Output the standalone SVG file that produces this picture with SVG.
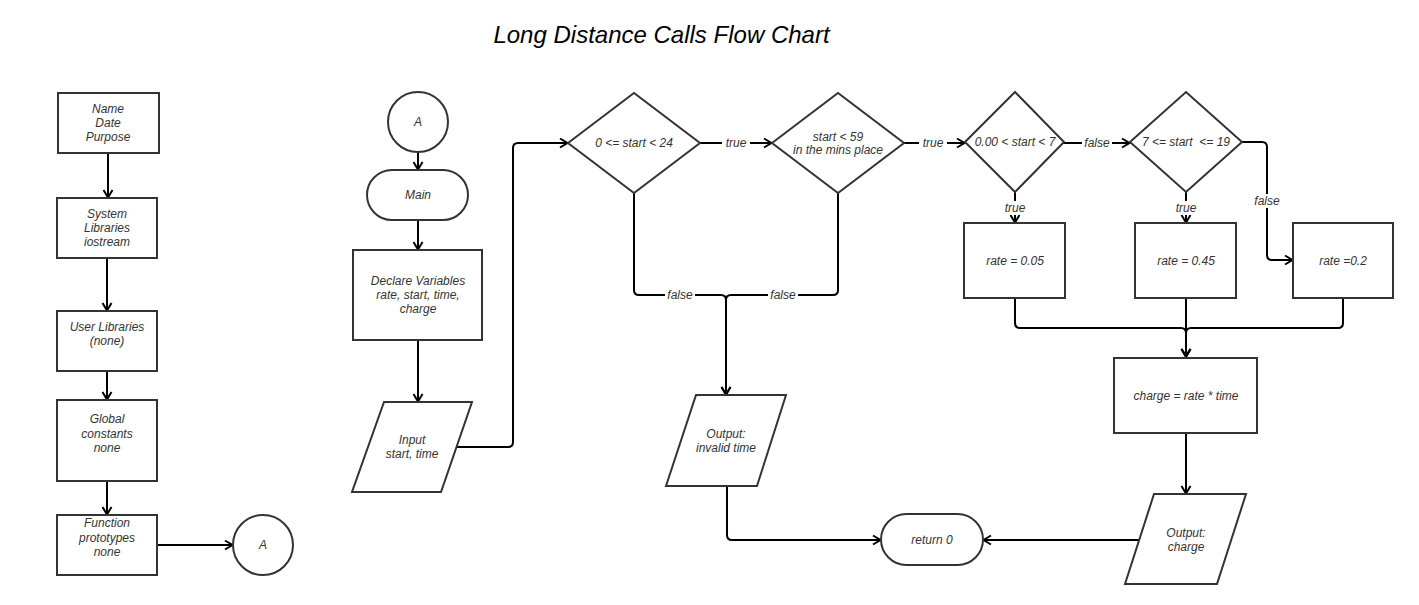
<svg xmlns="http://www.w3.org/2000/svg" width="1419" height="605" viewBox="0 0 1419 605">
<defs>
<style>
.n{fill:#fff;stroke:#333;stroke-width:2}
.t{font-family:"Liberation Sans",Arial,sans-serif;font-size:12px;font-style:italic;fill:#333;text-anchor:middle;dominant-baseline:central}
.c{fill:none;stroke:#000;stroke-width:2}
.lb{font-family:"Liberation Sans",Arial,sans-serif;font-size:12px;font-style:italic;fill:#333;text-anchor:middle;dominant-baseline:central}
.lbg{fill:#fff;stroke:none}
</style>
<marker id="arr" markerWidth="12" markerHeight="12" refX="9" refY="6" orient="auto" markerUnits="userSpaceOnUse">
<path d="M2,1.5 L9.5,6 L2,10.5" fill="none" stroke="#000" stroke-width="2"/>
</marker>
</defs>
<rect width="1419" height="605" fill="#fff"/>
<text x="661.5" y="34" font-family="'Liberation Sans',Arial,sans-serif" font-size="24" font-style="italic" fill="#000" text-anchor="middle" dominant-baseline="central">Long Distance Calls Flow Chart</text>

<g id="connectors">
<path class="c" d="M108,153 V197" marker-end="url(#arr)"/>
<path class="c" d="M107,258 V310" marker-end="url(#arr)"/>
<path class="c" d="M107,371 V399" marker-end="url(#arr)"/>
<path class="c" d="M107,481 V514" marker-end="url(#arr)"/>
<path class="c" d="M157,545 H232" marker-end="url(#arr)"/>
<path class="c" d="M418,153 V169" marker-end="url(#arr)"/>
<path class="c" d="M418,220 V249" marker-end="url(#arr)"/>
<path class="c" d="M418,340 V401" marker-end="url(#arr)"/>
<path class="c" d="M457,447 H508 Q513,447 513,442 V148 Q513,143 518,143 H567" marker-end="url(#arr)"/>
<path class="c" d="M699,143 H771" marker-end="url(#arr)"/>
<path class="c" d="M903,143 H964" marker-end="url(#arr)"/>
<path class="c" d="M1063,143 H1129" marker-end="url(#arr)"/>
<path class="c" d="M1015,192 V222" marker-end="url(#arr)"/>
<path class="c" d="M1186,192 V222" marker-end="url(#arr)"/>
<path class="c" d="M1241,142 H1262 Q1267,142 1267,147 V255 Q1267,260 1272,260 H1292" marker-end="url(#arr)"/>
<path class="c" d="M634,192 V290 Q634,295 639,295 H721 Q726,295 726,300 V394" marker-end="url(#arr)"/>
<path class="c" d="M838,192 V290 Q838,295 833,295 H731 Q726,295 726,300 V394" marker-end="url(#arr)"/>
<path class="c" d="M1015,298 V323 Q1015,328 1020,328 H1181 Q1186,328 1186,333 V356" marker-end="url(#arr)"/>
<path class="c" d="M1343,298 V323 Q1343,328 1338,328 H1191 Q1186,328 1186,333 V356" marker-end="url(#arr)"/>
<path class="c" d="M1186,298 V356" marker-end="url(#arr)"/>
<path class="c" d="M1186,433 V493" marker-end="url(#arr)"/>
<path class="c" d="M1139,540 H984" marker-end="url(#arr)"/>
<path class="c" d="M727,486 V535 Q727,540 732,540 H880" marker-end="url(#arr)"/>
<rect class="lbg" x="722" y="136" width="28" height="14"/>
<text class="lb" x="736" y="143">true</text>
<rect class="lbg" x="919" y="136" width="28" height="14"/>
<text class="lb" x="933" y="143">true</text>
<rect class="lbg" x="1082" y="136" width="30" height="14"/>
<text class="lb" x="1097" y="143">false</text>
<rect class="lbg" x="1001" y="201" width="28" height="14"/>
<text class="lb" x="1015" y="208">true</text>
<rect class="lbg" x="1172" y="201" width="28" height="14"/>
<text class="lb" x="1186" y="208">true</text>
<rect class="lbg" x="1252" y="194" width="30" height="14"/>
<text class="lb" x="1267" y="201">false</text>
<rect class="lbg" x="665" y="288" width="30" height="14"/>
<text class="lb" x="680" y="295">false</text>
<rect class="lbg" x="768" y="288" width="30" height="14"/>
<text class="lb" x="783" y="295">false</text>
</g>

<g id="n-name">
<rect class="n" x="58" y="93" width="101" height="60"/>
<text class="t" x="108" y="109">Name</text>
<text class="t" x="108" y="123">Date</text>
<text class="t" x="108" y="137">Purpose</text>
</g>
<g id="n-syslib">
<rect class="n" x="57" y="198" width="100" height="60"/>
<text class="t" x="107" y="214">System</text>
<text class="t" x="107" y="228">Libraries</text>
<text class="t" x="107" y="242">iostream</text>
</g>
<g id="n-userlib">
<rect class="n" x="57" y="311" width="100" height="60"/>
<text class="t" x="107" y="327">User Libraries</text>
<text class="t" x="107" y="341">(none)</text>
</g>
<g id="n-global">
<rect class="n" x="57" y="400" width="100" height="81"/>
<text class="t" x="107" y="419">Global</text>
<text class="t" x="107" y="434">constants</text>
<text class="t" x="107" y="448">none</text>
</g>
<g id="n-proto">
<rect class="n" x="57" y="515" width="100" height="60"/>
<text class="t" x="107" y="523">Function</text>
<text class="t" x="107" y="538">prototypes</text>
<text class="t" x="107" y="552">none</text>
</g>
<g id="n-a1">
<circle class="n" cx="263" cy="545" r="30"/>
<text class="t" x="263" y="545">A</text>
</g>
<g id="n-a2">
<circle class="n" cx="418" cy="122" r="30"/>
<text class="t" x="418" y="122">A</text>
</g>
<g id="n-main">
<rect class="n" x="367" y="170" width="101" height="50" rx="25" ry="25"/>
<text class="t" x="418" y="195">Main</text>
</g>
<g id="n-declare">
<rect class="n" x="353" y="250" width="129" height="90"/>
<text class="t" x="418" y="281">Declare Variables</text>
<text class="t" x="418" y="295">rate, start, time,</text>
<text class="t" x="418" y="309">charge</text>
</g>
<g id="n-input">
<polygon class="n" points="384,402 472,402 441,492 352,492"/>
<text class="t" x="412" y="440">Input</text>
<text class="t" x="412" y="454">start, time</text>
</g>
<g id="n-d1">
<polygon class="n" points="568,143 634,93 700,143 634,193"/>
<text class="t" x="634" y="143">0 &lt;= start &lt; 24</text>
</g>
<g id="n-d2">
<polygon class="n" points="772,143 838,93 904,143 838,193"/>
<text class="t" x="838" y="137">start &lt; 59</text>
<text class="t" x="838" y="150">in the mins place</text>
</g>
<g id="n-d3">
<polygon class="n" points="965,142 1015,92 1064,142 1015,192"/>
<text class="t" x="1015" y="142">0.00 &lt; start &lt; 7</text>
</g>
<g id="n-d4">
<polygon class="n" points="1130,142 1186,92 1242,142 1186,192"/>
<text class="t" x="1186" y="142" xml:space="preserve">7 &lt;= start  &lt;= 19</text>
</g>
<g id="n-rate1">
<rect class="n" x="964" y="223" width="101" height="75"/>
<text class="t" x="1015" y="261">rate = 0.05</text>
</g>
<g id="n-rate2">
<rect class="n" x="1135" y="223" width="101" height="75"/>
<text class="t" x="1186" y="261">rate = 0.45</text>
</g>
<g id="n-rate3">
<rect class="n" x="1293" y="223" width="100" height="75"/>
<text class="t" x="1343" y="261">rate =0.2</text>
</g>
<g id="n-charge">
<rect class="n" x="1114" y="358" width="143" height="75"/>
<text class="t" x="1186" y="396">charge = rate * time</text>
</g>
<g id="n-invalid">
<polygon class="n" points="696,395 786,395 757,486 666,486"/>
<text class="t" x="726" y="434">Output:</text>
<text class="t" x="726" y="448">invalid time</text>
</g>
<g id="n-outcharge">
<polygon class="n" points="1154,494 1246,494 1217,584 1125,584"/>
<text class="t" x="1186" y="533">Output:</text>
<text class="t" x="1186" y="547">charge</text>
</g>
<g id="n-return">
<rect class="n" x="881" y="514" width="102" height="51" rx="25.5" ry="25.5"/>
<text class="t" x="932" y="540">return 0</text>
</g>
</svg>
